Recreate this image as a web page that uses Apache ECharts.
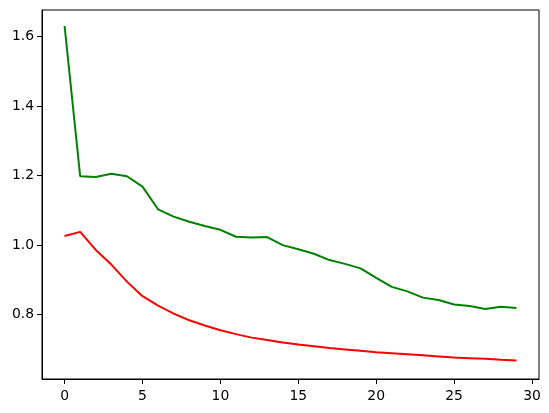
<!DOCTYPE html>
<html>
<head>
<meta charset="utf-8">
<script src="https://cdn.jsdelivr.net/npm/echarts@6/dist/echarts.min.js"></script>
<style>html,body{margin:0;padding:0;background:#fff;}#c{width:549px;height:413px;}</style>
</head>
<body>
<div id="c"></div>
<script>
const epochs = Array.from({length: 30}, (_, i) => i);
const greenValues = [1.630, 1.198, 1.196, 1.205, 1.198, 1.168, 1.103, 1.082, 1.067, 1.055,
  1.044, 1.024, 1.022, 1.023, 1.000, 0.988, 0.975, 0.957, 0.946, 0.933,
  0.906, 0.880, 0.867, 0.849, 0.842, 0.829, 0.825, 0.816, 0.823, 0.819];
const redValues = [1.026, 1.038, 0.986, 0.944, 0.895, 0.853, 0.826, 0.803, 0.784, 0.769,
  0.755, 0.744, 0.734, 0.727, 0.720, 0.714, 0.709, 0.704, 0.700, 0.696,
  0.692, 0.689, 0.686, 0.683, 0.680, 0.677, 0.675, 0.673, 0.670, 0.668];
const xTicks = [0, 5, 10, 15, 20, 25, 30];
const yTicks = [0.8, 1.0, 1.2, 1.4, 1.6];

const chart = echarts.init(document.getElementById('c'), null, {renderer: 'canvas'});
const font = {fontFamily: 'DejaVu Sans', fontSize: 13.9, color: '#000'};
chart.setOption({
  animation: false,
  backgroundColor: '#fff',
  grid: {left: 42, right: 10, top: 10, bottom: 34, show: true, borderColor: '#000', borderWidth: 1, backgroundColor: 'transparent'},
  xAxis: {
    type: 'value', min: -1.45, max: 30.45,
    axisLine: {show: true, onZero: false, lineStyle: {color: '#000', width: 1}},
    axisTick: {show: true, length: 5, customValues: xTicks, lineStyle: {color: '#000'}},
    axisLabel: Object.assign({customValues: xTicks, margin: 10, formatter: v => String(v)}, font),
    splitLine: {show: false}
  },
  yAxis: {
    type: 'value', min: 0.615, max: 1.676,
    axisLine: {show: true, onZero: false, lineStyle: {color: '#000', width: 1}},
    axisTick: {show: true, length: 5, customValues: yTicks, lineStyle: {color: '#000'}},
    axisLabel: Object.assign({customValues: yTicks, margin: 8, formatter: v => v.toFixed(1)}, font),
    splitLine: {show: false}
  },
  series: [
    {type: 'line', data: epochs.map((e, i) => [e, greenValues[i]]), showSymbol: false, lineStyle: {color: '#008000', width: 2}, itemStyle: {color: '#008000'}},
    {type: 'line', data: epochs.map((e, i) => [e, redValues[i]]), showSymbol: false, lineStyle: {color: '#ff0000', width: 2}, itemStyle: {color: '#ff0000'}}
  ]
});
</script>
</body>
</html>
